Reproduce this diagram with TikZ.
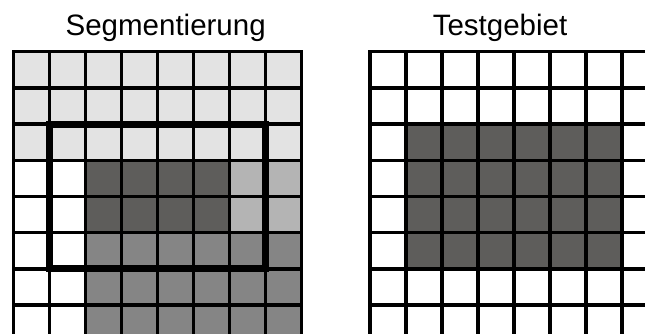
\documentclass[tikz,border=0pt]{standalone}
\usepackage{fontspec}
\setmainfont{Liberation Sans}
\usetikzlibrary{positioning}
\definecolor{lightseg}{HTML}{E3E3E3}
\definecolor{darkseg}{HTML}{5E5D5B}
\definecolor{paleseg}{HTML}{B4B4B4}
\definecolor{midseg}{HTML}{858585}
\tikzset{
  cellgrid/.style={draw=black,line width=3.3pt,line cap=rect},
  roi/.style={draw=black,line width=7pt},
  heading/.style={font=\fontsize{29.5}{34}\selectfont,anchor=base,inner sep=0pt}
}

\begin{document}
\begin{tikzpicture}[x=1pt,y=-1pt]
\useasboundingbox (0,0) rectangle (645,333);
\clip (0,0) rectangle (645,333);
\node[heading] (segtitle) at (165.7,35) {Segmentierung};
\node[heading] (testtitle) at (500,35) {Testgebiet};
% Segmentierung
\begin{scope}[shift={(13.3,51.7)},x=36pt,y=-36.2pt]
\fill[lightseg] (0,0) rectangle (8,3);
\fill[darkseg] (2,3) rectangle (6,5);
\fill[paleseg] (6,3) rectangle (8,5);
\fill[midseg] (2,5) rectangle (8,8);
\foreach \i in {0,...,8} {
  \draw[cellgrid] (\i,0) -- (\i,8);
  \draw[cellgrid] (0,\i) -- (8,\i);
}
\draw[roi] (1,2) rectangle (7,6);
\end{scope}
% Testgebiet
\begin{scope}[shift={(370,51.7)},x=36pt,y=-36.2pt]
\fill[darkseg] (1,2) rectangle (7,6);
\foreach \i in {0,...,8} {
  \draw[cellgrid] (\i,0) -- (\i,8);
  \draw[cellgrid] (0,\i) -- (8,\i);
}
\end{scope}
\end{tikzpicture}
\end{document}
